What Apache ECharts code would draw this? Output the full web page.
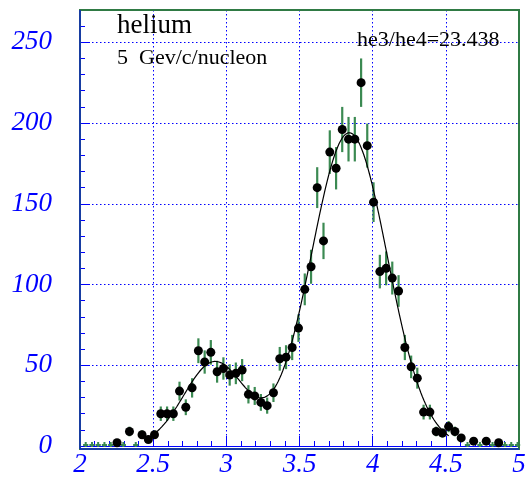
<!DOCTYPE html>
<html>
<head>
<meta charset="utf-8">
<script src="https://cdn.jsdelivr.net/npm/echarts@6/dist/echarts.min.js"></script>
<style>
  html, body { margin: 0; padding: 0; background: #ffffff; }
  #chart { width: 529px; height: 478px; }
</style>
</head>
<body>
<div id="chart"></div>
<script>
// Histogram bin centres and entries per bin
const binCenters = [
  2.039, 2.082, 2.124, 2.167, 2.210,
  2.253, 2.296, 2.338, 2.381, 2.424, 2.467, 2.509, 2.552, 2.595, 2.638,
  2.680, 2.723, 2.766, 2.809, 2.852, 2.894, 2.937, 2.980, 3.023, 3.065,
  3.108, 3.151, 3.194, 3.236, 3.279, 3.322, 3.365, 3.408, 3.450, 3.493,
  3.536, 3.579, 3.621, 3.664, 3.707, 3.750, 3.792, 3.835, 3.878, 3.921,
  3.963, 4.006, 4.049, 4.092, 4.134, 4.177, 4.220, 4.263, 4.305, 4.348,
  4.391, 4.434, 4.477, 4.519, 4.562, 4.605, 4.648, 4.690, 4.733, 4.776,
  4.819, 4.861, 4.904, 4.947, 4.990
];
const counts = [
  0, 0, 0, 0, 0,
  2, 0, 9, 0, 7, 4, 7, 20, 20, 20,
  34, 24, 36, 59, 52, 58, 46, 48, 44, 45,
  47, 32, 31, 27, 25, 33, 54, 55, 61, 73,
  97, 111, 160, 127, 182, 172, 196, 190, 190, 225,
  186, 151, 108, 110, 104, 96, 61, 49, 42, 21,
  21, 9, 8, 12, 9, 5, 0, 3, 0, 3,
  0, 2, 0, 0, 0
];
const binWidth = 0.0428;

// Double-gaussian fit: he3 bump and he4 peak
const fitHe3 = { amp: 52, mean: 2.92, sigma: 0.21 };
const fitHe4 = { amp: 194, mean: 3.84, sigma: 0.26 };
const fitRange = [2.5, 4.52];

const xTickStep = 0.5, xMinorStep = 0.1;
const yTickStep = 50, yMinorStep = 10;

const titleText = 'helium';
const momentumText = '5  Gev/c/nucleon';
const ratioText = 'he3/he4=23.438';

const BLUE = '#0000ff';
const GREEN = '#3b8a52';
const FRAME = '#2f7a44';
const SERIF = '"Liberation Serif", "Times New Roman", serif';

const filled = [];
const empty = [];
binCenters.forEach((x, i) => {
  const n = counts[i];
  if (n > 0) filled.push([x, n, Math.sqrt(n)]);
  else empty.push([x, 0]);
});

function gauss(p, x) {
  const d = (x - p.mean) / p.sigma;
  return p.amp * Math.exp(-0.5 * d * d);
}
const fitLine = [];
for (let x = fitRange[0]; x <= fitRange[1] + 1e-9; x += 0.005) {
  fitLine.push([x, gauss(fitHe3, x) + gauss(fitHe4, x)]);
}

const chart = echarts.init(document.getElementById('chart'), null, { renderer: 'canvas' });

const gridBox = { left: 80, right: 10, top: 10, bottom: 29 };

const majorAxisCommon = {
  axisLine: { show: true, onZero: false, lineStyle: { color: BLUE, width: 1 } },
  axisTick: { show: true, inside: true, length: 10, lineStyle: { color: BLUE, width: 1 } },
  splitLine: { show: true, lineStyle: { color: BLUE, width: 1, type: [1.5, 2.5] } },
  axisLabel: {
    color: BLUE, fontFamily: SERIF, fontStyle: 'italic', fontSize: 27
  }
};
const minorAxisCommon = {
  axisLine: { show: false },
  axisTick: { show: true, inside: true, length: 5, lineStyle: { color: BLUE, width: 1 } },
  splitLine: { show: false },
  axisLabel: { show: false }
};

chart.setOption({
  animation: false,
  backgroundColor: '#ffffff',
  grid: Object.assign({ show: false }, gridBox),
  xAxis: [
    Object.assign({
      type: 'value', min: 2, max: 5, interval: xTickStep, position: 'bottom'
    }, majorAxisCommon, {
      axisLabel: Object.assign({}, majorAxisCommon.axisLabel, { margin: 5 })
    }),
    Object.assign({
      type: 'value', min: 2, max: 5, interval: xMinorStep, position: 'bottom', offset: 0
    }, minorAxisCommon)
  ],
  yAxis: [
    Object.assign({
      type: 'value', min: 0, max: 270, interval: yTickStep, position: 'left'
    }, majorAxisCommon, {
      axisLabel: Object.assign({}, majorAxisCommon.axisLabel, { margin: 28, showMaxLabel: false })
    }),
    Object.assign({
      type: 'value', min: 0, max: 270, interval: yMinorStep, position: 'left', offset: 0
    }, minorAxisCommon)
  ],
  series: [
    {
      // empty bins drawn as small crosses on the baseline
      type: 'custom',
      xAxisIndex: 0, yAxisIndex: 0,
      data: empty,
      clip: false,
      z: 3,
      renderItem: function (params, api) {
        const x = api.value(0);
        const l = api.coord([x - binWidth / 2, 0]);
        const r = api.coord([x + binWidth / 2, 0]);
        const c = api.coord([x, 0]);
        return {
          type: 'group',
          children: [
            { type: 'line', shape: { x1: l[0] + 0.5, y1: c[1] - 1, x2: r[0] - 0.5, y2: c[1] - 1 },
              style: { stroke: GREEN, lineWidth: 2 } },
            { type: 'line', shape: { x1: c[0], y1: c[1] - 4, x2: c[0], y2: c[1] + 1 },
              style: { stroke: GREEN, lineWidth: 2 } }
          ]
        };
      }
    },
    {
      // statistical error bars
      type: 'custom',
      xAxisIndex: 0, yAxisIndex: 0,
      data: filled,
      z: 4,
      renderItem: function (params, api) {
        const x = api.value(0), y = api.value(1), e = api.value(2);
        const top = api.coord([x, y + e]);
        const bot = api.coord([x, Math.max(0, y - e)]);
        return {
          type: 'line',
          shape: { x1: top[0], y1: top[1], x2: bot[0], y2: bot[1] },
          style: { stroke: GREEN, lineWidth: 2.2 }
        };
      }
    },
    {
      type: 'line',
      xAxisIndex: 0, yAxisIndex: 0,
      data: fitLine,
      showSymbol: false,
      symbol: 'none',
      smooth: false,
      z: 5,
      lineStyle: { color: '#000000', width: 1.2 }
    },
    {
      type: 'scatter',
      xAxisIndex: 0, yAxisIndex: 0,
      data: filled.map(d => [d[0], d[1]]),
      symbol: 'circle',
      symbolSize: 9,
      z: 6,
      itemStyle: { color: '#000000', opacity: 1 }
    }
  ],
  graphic: [
    {
      type: 'rect', z: 100, silent: true,
      shape: { x: gridBox.left, y: gridBox.top, width: 529 - gridBox.left - gridBox.right, height: 478 - gridBox.top - gridBox.bottom },
      style: { fill: 'none', stroke: FRAME, lineWidth: 2 }
    },
    {
      type: 'line', z: 101, silent: true,
      shape: { x1: gridBox.left, y1: gridBox.top, x2: gridBox.left, y2: 478 - gridBox.bottom },
      style: { stroke: BLUE, lineWidth: 1 }
    },
    {
      type: 'line', z: 101, silent: true,
      shape: { x1: gridBox.left, y1: 478 - gridBox.bottom, x2: 529 - gridBox.right, y2: 478 - gridBox.bottom },
      style: { stroke: BLUE, lineWidth: 1 }
    },
    {
      type: 'text', z: 102, left: 117, top: 12,
      style: { text: titleText, fill: '#000000', font: '27px ' + SERIF }
    },
    {
      type: 'text', z: 102, left: 117, top: 47,
      style: { text: momentumText, fill: '#000000', font: '22px ' + SERIF }
    },
    {
      type: 'text', z: 102, left: 357, top: 29,
      style: { text: ratioText, fill: '#000000', font: '22px ' + SERIF }
    }
  ]
});
</script>
</body>
</html>
